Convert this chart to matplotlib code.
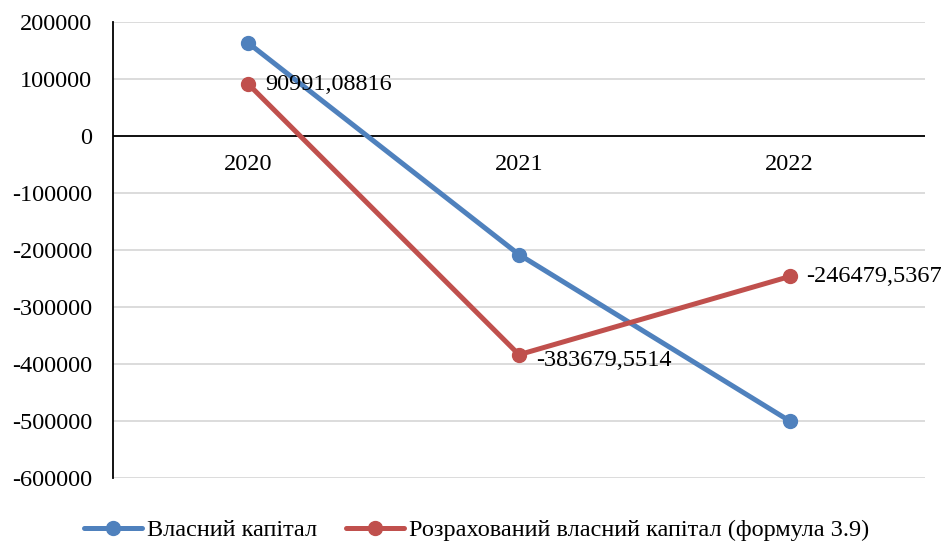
import matplotlib.pyplot as plt

years = ['2020', '2021', '2022']
own_capital = [163000, -208000, -500000]
calc_capital = [90991.08816, -383679.5514, -246479.5367]
calc_labels = ['90991,08816', '-383679,5514', '-246479,5367']
yticks = list(range(-600000, 200001, 100000))

plt.rcParams['font.family'] = ['Liberation Serif', 'DejaVu Serif']
FS = 17.5

fig = plt.figure(figsize=(9.53, 5.44), dpi=100)
ax = fig.add_axes([113 / 953, 1 - 478 / 544, 812 / 953, 456 / 544])

x = range(len(years))
ax.plot(x, own_capital, color='#4F81BD', lw=3.6, marker='o', ms=10,
        label='Власний капітал', solid_capstyle='round')
ax.plot(x, calc_capital, color='#C0504D', lw=3.6, marker='o', ms=10,
        label='Розрахований власний капітал (формула 3.9)', solid_capstyle='round')

# value labels next to the calculated series
offsets = [(12, 0), (12, -4), (12, 0)]
for i, (v, t) in enumerate(zip(calc_capital, calc_labels)):
    ax.annotate(t, (i, v), xytext=offsets[i], textcoords='offset points',
                ha='left', va='center', fontsize=FS)

ax.set_xlim(-0.5, 2.5)
ax.set_ylim(-600000, 200000)
ax.set_yticks(yticks)
ax.set_yticklabels([str(v) for v in yticks], fontsize=FS)
ax.tick_params(axis='y', length=0, pad=15)
ax.set_xticks([])
for i, yr in enumerate(years):
    ax.text(i, -50000, yr, ha='center', va='center', fontsize=FS)

ax.grid(axis='y', color='#D9D9D9', lw=1.3)
ax.set_axisbelow(True)
ax.axhline(0, color='black', lw=1.3, zorder=1.5)
for s in ['top', 'right', 'bottom']:
    ax.spines[s].set_visible(False)
ax.spines['left'].set_linewidth(1.3)

fig.legend(loc='lower center', bbox_to_anchor=(0.5, -0.035), ncol=2, frameon=False,
           fontsize=FS, handlelength=2.4, columnspacing=1.2, handletextpad=0.2)

fig.savefig('out.png', dpi=100)
